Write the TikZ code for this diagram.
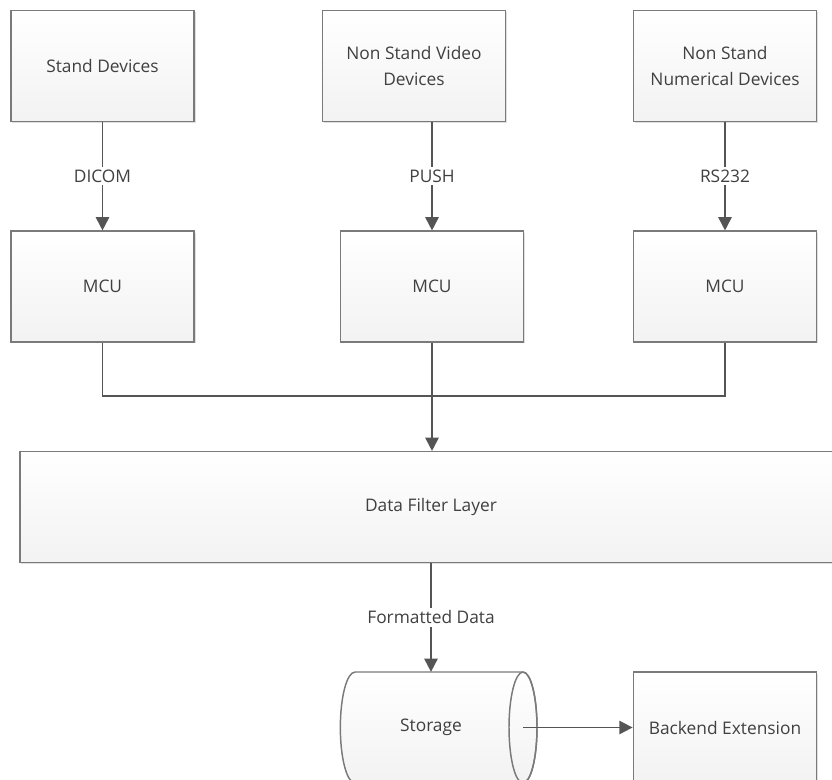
\documentclass[tikz,border=0pt]{standalone}
\usepackage{fontspec}
\setmainfont{Open Sans}
\usepackage{tikz}
\usetikzlibrary{shapes,calc,positioning,arrows.meta,shadows}
\definecolor{boxline}{HTML}{7A7A7A}
\definecolor{wire}{HTML}{555555}
\definecolor{ink}{HTML}{404040}
\begin{document}
\begin{tikzpicture}[x=0.75pt, y=0.75pt, font=\fontsize{13}{19.3}\selectfont, text=ink,
        >={Triangle[length=10pt,width=10pt]},
        every edge/.style={draw=wire, line width=1.4pt}]
      \tikzstyle{unit} = [rectangle, draw=boxline, line width=1.1pt, top color=white, bottom color=gray!10,
                          drop shadow={shadow xshift=1pt, shadow yshift=-1pt, opacity=.25},
                          minimum width=137.5pt, minimum height=83pt, align=center, inner sep=0pt]
      \tikzstyle{link} = [fill=white, inner sep=2pt]
      \useasboundingbox (0,0) rectangle (832,-779);
      \clip (0,0) rectangle (832,-779);
      % sources
      \node (stand) [unit] at (102.5,-66) {Stand Devices};
      \node (video) [unit] at (414,-66) {Non Stand Video\\Devices};
      \node (numer) [unit] at (725,-66) {Non Stand\\Numerical Devices};
      % controllers
      \node (mcuA) [unit] at (102.5,-286.5) {MCU};
      \node (mcuB) [unit] at (432,-286.5) {MCU};
      \node (mcuC) [unit] at (725,-286.5) {MCU};
      \node (filter) [unit, minimum width=616.5pt] at (431,-507) {Data Filter Layer};
      % storage drum
      \draw [boxline, line width=1.1pt, top color=white, bottom color=gray!10]
        (355,-672) -- (523,-672)
        arc [start angle=90, end angle=-90, x radius=10.5pt, y radius=41.6pt]
        -- (355,-783)
        arc [start angle=270, end angle=90, x radius=11pt, y radius=41.6pt] -- cycle;
      \draw [boxline, line width=1.1pt] (523,-727.5) ellipse [x radius=10.5pt, y radius=41.6pt];
      \node (storage) [minimum height=83pt, inner sep=0pt] at (431,-727.5) {Storage};
      \coordinate (front) at (523,-727.5);
      \node (backend) [unit] at (725,-727.5) {Backend Extension};
      % connectors
      \path [->] (stand) edge node [link] {DICOM} (mcuA)
                 (mcuB |- video.south) edge node [link] {PUSH} (mcuB)
                 (numer) edge node [link] {RS232} (mcuC);
      \coordinate (bus) at (mcuB |- 0,-396);
      \draw [draw=wire, line width=1.4pt] (mcuA.south) |- (bus) -| (mcuC.south);
      \path [->] (mcuB) edge (filter.north -| mcuB)
                 (filter) edge node [link] {Formatted Data} (storage.north)
                 (front) edge (backend);
    \end{tikzpicture}
\end{document}
